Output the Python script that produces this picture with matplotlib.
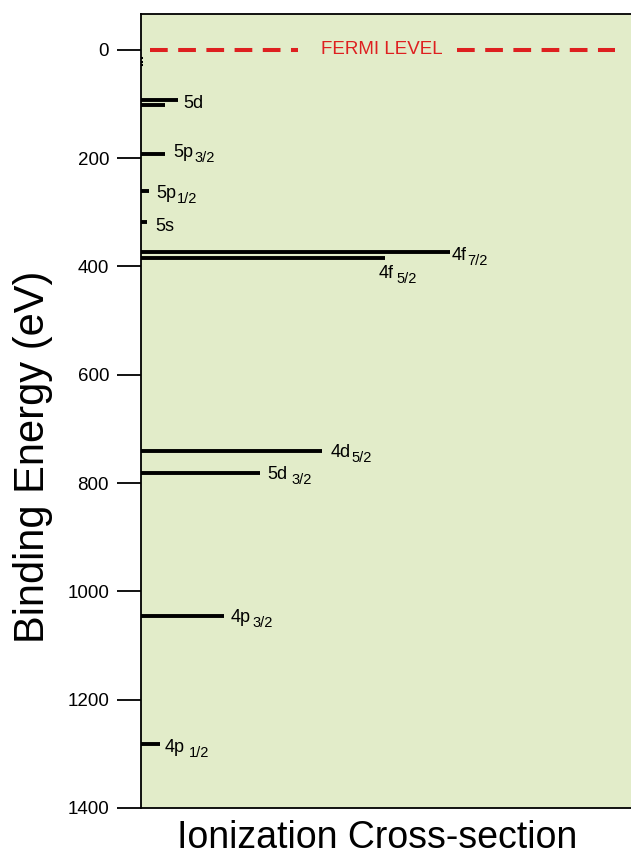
import matplotlib.pyplot as plt
from matplotlib import transforms

plt.rcParams['font.family'] = ['Liberation Sans', 'DejaVu Sans']

# core levels: binding energy (eV) and relative cross-section
energies = [92, 101.5, 192, 260, 318, 374, 384, 740, 782, 1045, 1282]
cross_sections = [7.6, 4.9, 4.9, 1.6, 1.2, 63.0, 49.8, 37.0, 24.3, 17.0, 3.9]
label_main = ['5d', '', '5p', '5p', '5s', '4f', '4f', '4d', '5d', '4p', '4p']
label_sub = ['', '', '3/2', '1/2', '', '7/2', '5/2', '5/2', '3/2', '3/2', '1/2']

# shallow valence levels just below the Fermi level
shallow_energies = [16, 22, 29]
shallow_cross = [0.5, 0.5, 0.5]

yticks = [0, 200, 400, 600, 800, 1000, 1200, 1400]

# label placement in pixels: gap after bar end, baseline drop, gap before subscript
label_gap = [5, 0, 8, 7, 8, 2, -6, 8, 7, 6, 5]
label_drop = [8, 0, 3, 7, 9, 8, 20, 6, 6, 6, 8]
sub_gap = [0, 0, 1, 1, 0, 1, 2, 1, 4, 2, 4]

fig = plt.figure(figsize=(6.31, 8.57), dpi=100)
ax = fig.add_axes([141 / 631, 49 / 857, 1 - 141 / 631, (808 - 14) / 857])
ax.set_facecolor('#e2ecc9')

ax.hlines(energies, 0, cross_sections, color='black', linewidth=2.8)
ax.hlines(shallow_energies, 0, shallow_cross, color='black', linewidth=1.5)

# Fermi level
red = '#de2020'
ax.plot([1.84, 32.0], [0, 0], color=red, linewidth=2.9, dashes=(4.4, 2.6))
ax.plot([64.5, 96.7], [0, 0], color=red, linewidth=2.9, dashes=(4.4, 2.6))
ax.text(49.2, 0, 'FERMI LEVEL', color=red, fontsize=13.5, ha='center', va='center')

ax.set_xlim(0, 100)
ax.set_ylim(1400, -66)
ax.set_yticks(yticks)
ax.set_xticks([])
ax.tick_params(axis='y', direction='out', length=17, width=1.3, labelsize=13.5, pad=6)
ax.spines['right'].set_visible(False)
for s in ['left', 'top', 'bottom']:
    ax.spines[s].set_linewidth(1.3)

# level labels with subscripts
renderer = fig.canvas.get_renderer()
for e, c, m, s, g, d, sg in zip(energies, cross_sections, label_main, label_sub,
                                 label_gap, label_drop, sub_gap):
    if not m:
        continue
    tr = transforms.offset_copy(ax.transData, fig=fig, x=g, y=-d, units='dots')
    t = ax.text(c, e, m, fontsize=13, ha='left', va='baseline', transform=tr)
    if s:
        w = t.get_window_extent(renderer).width
        tr2 = transforms.offset_copy(ax.transData, fig=fig, x=g + w + sg, y=-d - 5,
                                     units='dots')
        ax.text(c, e, s, fontsize=10.5, ha='left', va='baseline', transform=tr2)

fig.text(33 / 631, 1 - 457 / 857, 'Binding Energy (eV)', fontsize=30,
         rotation=90, ha='center', va='center')
fig.text(377.5 / 631, 1 / 857, 'Ionization Cross-section', fontsize=27,
         ha='center', va='bottom')

plt.savefig('out.png', dpi=100)
